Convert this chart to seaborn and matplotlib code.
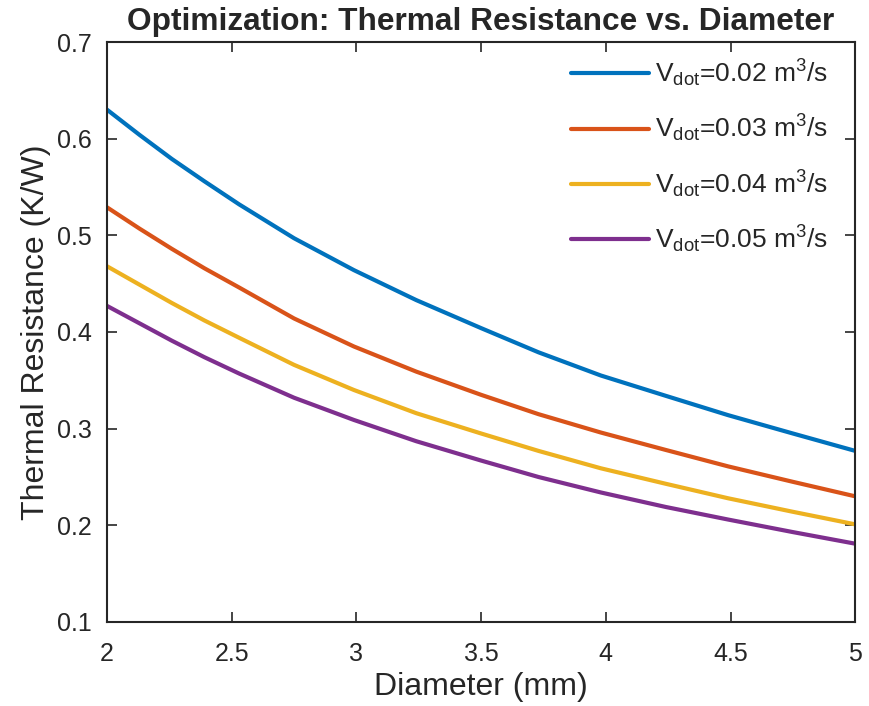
import pandas as pd
import matplotlib
matplotlib.use("Agg")
import matplotlib.pyplot as plt
import seaborn as sns

# values
diameter = [2.0, 2.13, 2.26, 2.39, 2.53, 2.75, 2.99, 3.24, 3.50, 3.73, 3.98, 4.24, 4.49, 4.75, 5.0]
r_002 = [0.630, 0.604, 0.579, 0.556, 0.532, 0.497, 0.464, 0.433, 0.404, 0.379, 0.355, 0.334, 0.314, 0.295, 0.277]
r_003 = [0.529, 0.507, 0.486, 0.466, 0.446, 0.414, 0.385, 0.359, 0.335, 0.315, 0.296, 0.278, 0.261, 0.245, 0.230]
r_004 = [0.468, 0.449, 0.430, 0.412, 0.394, 0.366, 0.340, 0.316, 0.295, 0.277, 0.259, 0.243, 0.228, 0.214, 0.201]
r_005 = [0.427, 0.409, 0.391, 0.374, 0.357, 0.332, 0.309, 0.287, 0.267, 0.250, 0.234, 0.219, 0.206, 0.193, 0.181]
flows = ['0.02', '0.03', '0.04', '0.05']
colors = ['#0072BD', '#D95319', '#EDB120', '#7E2F8E']

labels = [r'$\mathregular{V_{dot}}$=' + f + r' m$\mathregular{^3}$/s' for f in flows]
frames = []
for lab, vals in zip(labels, [r_002, r_003, r_004, r_005]):
    frames.append(pd.DataFrame({'Diameter': diameter, 'R': vals, 'Flow': lab}))
df = pd.concat(frames, ignore_index=True)

sns.set_style("ticks")
plt.rcParams['font.family'] = ['Liberation Sans', 'DejaVu Sans']
plt.rcParams['xtick.direction'] = 'in'
plt.rcParams['ytick.direction'] = 'in'

fig = plt.figure(figsize=(8.7, 7.06), dpi=100)
ax = fig.add_axes([0.123, 0.119, 0.860, 0.8215])

sns.lineplot(data=df, x='Diameter', y='R', hue='Flow', palette=colors,
             linewidth=3, ax=ax)

ax.set_xlim(2, 5)
ax.set_ylim(0.1, 0.7)
ax.set_xticks([2, 2.5, 3, 3.5, 4, 4.5, 5])
ax.set_xticklabels(['2', '2.5', '3', '3.5', '4', '4.5', '5'])
ax.set_yticks([0.1, 0.2, 0.3, 0.4, 0.5, 0.6, 0.7])
ax.tick_params(axis='both', which='both', top=True, right=True, length=7,
               width=1.2, labelsize=18, color='#262626', labelcolor='#262626')
ax.tick_params(axis='x', pad=14.5)
ax.tick_params(axis='y', pad=11)
for s in ax.spines.values():
    s.set_linewidth(1.5)
    s.set_color('#262626')

ax.set_xlabel('Diameter (mm)', fontsize=23, color='#262626', labelpad=4)
ax.set_ylabel('Thermal Resistance (K/W)', fontsize=23, color='#262626', labelpad=4)
ax.set_title('Optimization: Thermal Resistance vs. Diameter', fontsize=22.8,
             fontweight='bold', pad=9)

leg = ax.legend(loc='upper right', bbox_to_anchor=(0.985, 1.0), frameon=False,
                fontsize=19, handlelength=2.95, labelspacing=0.9,
                handletextpad=0.25, borderaxespad=0.2)

plt.savefig('out.png', dpi=100)
plt.close(fig)
